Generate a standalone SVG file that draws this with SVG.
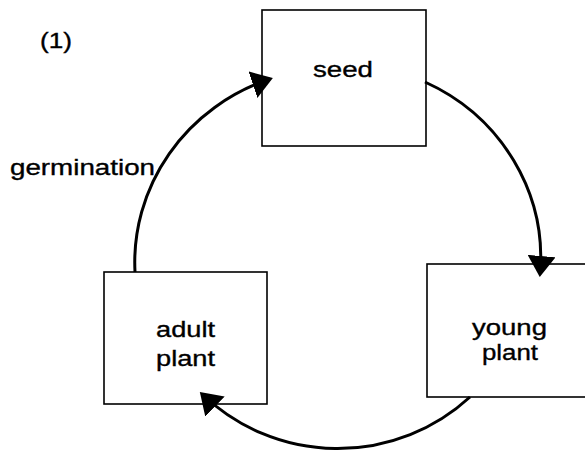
<svg xmlns="http://www.w3.org/2000/svg" width="585" height="451" viewBox="0 0 585 451">
  <defs>
    <style>
      .box { fill: #ffffff; stroke: #000000; stroke-width: 1.6; }
      .lbl { font-family: "Liberation Sans", Arial, sans-serif; font-size: 22px; fill: #000000; stroke: #000000; stroke-width: 0.35; }
      .arc { fill: none; stroke: #000000; stroke-width: 3; }
    </style>
    <marker id="ah" viewBox="0 0 21 28" refX="18" refY="14" markerWidth="21" markerHeight="28" markerUnits="userSpaceOnUse" orient="auto">
      <path d="M0,0 L21,14 L0,28 Z" fill="#000000"/>
    </marker>
  </defs>
  <rect x="0" y="0" width="585" height="451" fill="#ffffff"/>

  <text class="lbl" x="40" y="48" textLength="32" lengthAdjust="spacingAndGlyphs">(1)</text>
  <text class="lbl" x="10" y="175" textLength="145" lengthAdjust="spacingAndGlyphs">germination</text>

  <g id="seed">
    <rect class="box" x="262" y="10" width="164" height="136"/>
    <text class="lbl" x="313" y="77" textLength="60" lengthAdjust="spacingAndGlyphs">seed</text>
  </g>

  <g id="young-plant">
    <rect class="box" x="427" y="264" width="180" height="133"/>
    <text class="lbl" x="472" y="335" textLength="75" lengthAdjust="spacingAndGlyphs">young</text>
    <text class="lbl" x="482" y="360" textLength="56" lengthAdjust="spacingAndGlyphs">plant</text>
  </g>

  <g id="adult-plant">
    <rect class="box" x="104" y="272" width="163" height="132"/>
    <text class="lbl" x="156" y="337" textLength="59" lengthAdjust="spacingAndGlyphs">adult</text>
    <text class="lbl" x="156" y="366" textLength="59" lengthAdjust="spacingAndGlyphs">plant</text>
  </g>

  <g id="connectors">
    <path class="arc" d="M135,272 A201,194 0 0 1 270,79" marker-end="url(#ah)"/>
    <path class="arc" d="M425,82 A201,194 0 0 1 540,274" marker-end="url(#ah)"/>
    <path class="arc" d="M470,397 A195,194 0 0 1 202,394" marker-end="url(#ah)"/>
  </g>
</svg>
